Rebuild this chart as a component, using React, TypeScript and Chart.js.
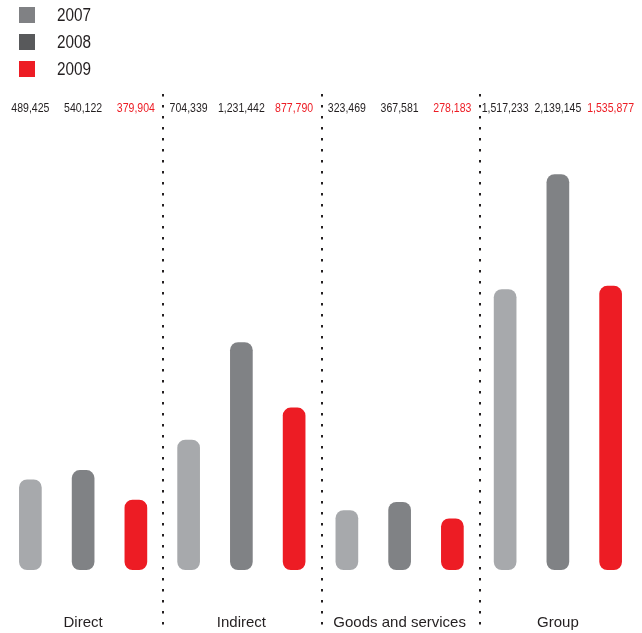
import React, { useEffect, useRef } from "react";
import { Chart, registerables } from "chart.js";

Chart.register(...registerables);

const categories = ["Direct", "Indirect", "Goods and services", "Group"];
const seriesLabels = ["2007", "2008", "2009"];
const values2007 = [489425, 704339, 323469, 1517233];
const values2008 = [540122, 1231442, 367581, 2139145];
const values2009 = [379904, 877790, 278183, 1535877];
const barColors = ["#a7a9ac", "#808285", "#ed1c24"];
const legendColors = ["#808184", "#58595b", "#ed1c24"];
const valueLabelColors = ["#231f20", "#231f20", "#ed1c24"];

const FONT = "'Liberation Sans', Arial, sans-serif";
const TEXT = "#231f20";

function narrowText(ctx: any, text: string, x: number, y: number, sx: number) {
  ctx.save();
  ctx.translate(x, y);
  ctx.scale(sx, 1);
  ctx.fillText(text, 0, 0);
  ctx.restore();
}

const overlayPlugin = {
  id: "overlay",
  afterDraw(chart: any) {
    const ctx = chart.ctx;
    const xScale = chart.scales.x;
    ctx.save();
    // legend
    chart.data.datasets.forEach((ds: any, i: number) => {
      const cy = 15 + i * 27;
      ctx.fillStyle = legendColors[i];
      ctx.fillRect(19, cy - 8, 16, 16);
      ctx.fillStyle = TEXT;
      ctx.font = `18px ${FONT}`;
      ctx.textAlign = "left";
      ctx.textBaseline = "middle";
      narrowText(ctx, ds.label, 57, cy + 1, 0.85);
    });
    // value labels
    ctx.font = `13px ${FONT}`;
    ctx.textAlign = "center";
    ctx.textBaseline = "middle";
    chart.data.datasets.forEach((ds: any, i: number) => {
      const meta = chart.getDatasetMeta(i);
      meta.data.forEach((el: any, j: number) => {
        ctx.fillStyle = valueLabelColors[i];
        narrowText(ctx, Number(ds.data[j]).toLocaleString("en-US"), el.x, 108.5, 0.81);
      });
    });
    // dotted separators
    ctx.fillStyle = TEXT;
    const n = categories.length;
    for (let k = 1; k < n; k++) {
      const x = (xScale.getPixelForValue(k - 1) + xScale.getPixelForValue(k)) / 2;
      for (let y = 94; y < chart.height; y += 11) {
        ctx.fillRect(Math.round(x), y, 2, 2.5);
      }
    }
    ctx.restore();
  },
};

export default function App() {
  const ref = useRef<HTMLCanvasElement | null>(null);
  useEffect(() => {
    if (!ref.current) return;
    const seriesValues = [values2007, values2008, values2009];
    const chart = new Chart(ref.current, {
      type: "bar",
      data: {
        labels: categories,
        datasets: seriesLabels.map((label, i) => ({
          label,
          data: seriesValues[i],
          backgroundColor: barColors[i],
          borderRadius: 8,
          borderSkipped: false,
          barPercentage: 0.43,
          categoryPercentage: 1,
        })),
      },
      options: {
        animation: false,
        responsive: true,
        maintainAspectRatio: false,
        layout: { padding: { top: 100, left: 4, right: 5, bottom: 1 } },
        plugins: { legend: { display: false }, tooltip: { enabled: false } },
        scales: {
          x: {
            grid: { display: false, drawTicks: false },
            border: { display: false },
            ticks: { color: TEXT, padding: 44, font: { family: FONT, size: 15 } },
            afterFit: (scale: any) => {
              scale.height = 62;
            },
          },
          y: { display: false, min: 0, max: 2540000 },
        },
      },
      plugins: [overlayPlugin],
    });
    return () => chart.destroy();
  }, []);
  return (
    <div style={{ position: "fixed", left: 0, top: 0, width: 642, height: 633, background: "#fff" }}>
      <canvas ref={ref} />
    </div>
  );
}
